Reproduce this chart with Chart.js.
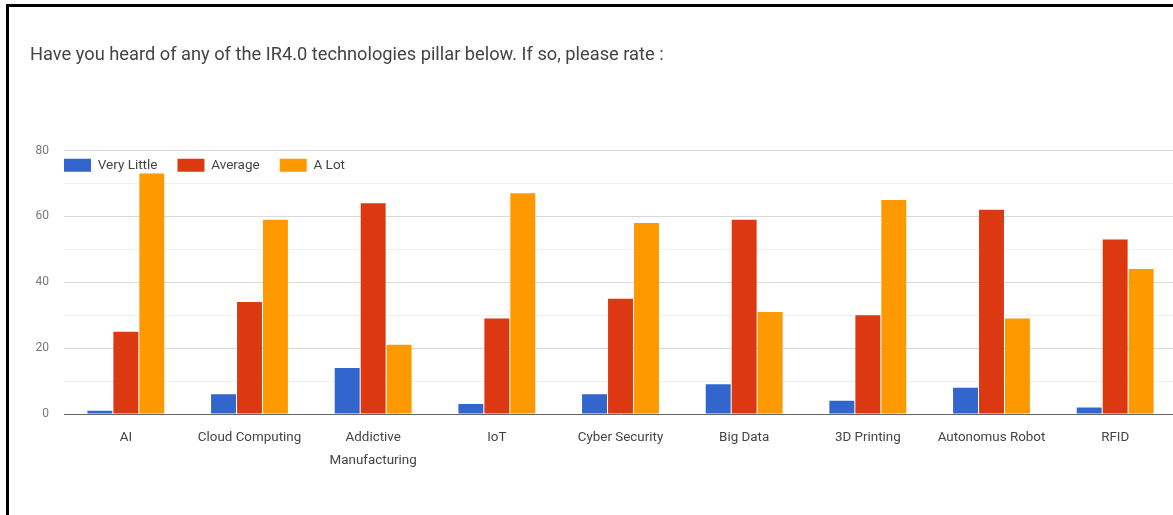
<!DOCTYPE html>
<html>
<head>
<meta charset="utf-8">
<script src="https://cdn.jsdelivr.net/npm/chart.js@4.4.1/dist/chart.umd.min.js"></script>
<style>
  body { margin: 0; background: #fff; overflow: hidden; }
  #wrap { position: relative; width: 1173px; height: 515px; overflow: hidden; }
  #mycanvas { position: absolute; left: 0; top: 0; }
  #frame { position: absolute; left: 6px; top: 4px; width: 2000px; height: 2000px;
           border-left: 3px solid #000; border-top: 3px solid #000; pointer-events: none; }
</style>
</head>
<body>
<div id="wrap">
  <canvas id="mycanvas" width="1180" height="515"></canvas>
  <div id="frame"></div>
</div>
<script>
var title = 'Have you heard of any of the IR4.0 technologies pillar below. If so, please rate :';
var categories = ['AI', 'Cloud Computing', ['Addictive', 'Manufacturing'], 'IoT', 'Cyber Security', 'Big Data', '3D Printing', 'Autonomus Robot', 'RFID'];
var seriesNames = ['Very Little', 'Average', 'A Lot'];
var veryLittle = [1, 6, 14, 3, 6, 9, 4, 8, 2];
var average = [25, 34, 64, 29, 35, 59, 30, 62, 53];
var aLot = [73, 59, 21, 67, 58, 31, 65, 29, 44];
var yTicks = [0, 20, 40, 60, 80];

var colors = ['#3366cc', '#dc3912', '#ff9900'];
var legendPad = 20;

// the original legend sits inside the plot, just under the top gridline
var legendInside =
{
  id: 'legendInside',
  afterLayout: function(chart)
  {
    var lg = chart.legend;
    lg.left = chart.chartArea.left - legendPad;
    lg.top = chart.chartArea.top + 8 - legendPad;
    lg.right = lg.left + lg.width;
    lg.bottom = lg.top + lg.height;
  }
};

var chartdata =
{
  labels: categories,
  datasets: [veryLittle, average, aLot].map(function(values, i)
  {
    return {
      label: seriesNames[i],
      backgroundColor: colors[i],
      borderWidth: 0,
      data: values,
      categoryPercentage: 0.63,
      barPercentage: 0.96
    };
  })
};

var ctx = document.getElementById('mycanvas');

var barGraph = new Chart(ctx,
{
  type: 'bar',
  data: chartdata,
  plugins: [legendInside],
  options:
  {
    responsive: false,
    animation: false,
    layout: { padding: { left: 30, right: 3, top: 0, bottom: 0 } },
    plugins:
    {
      tooltip: { enabled: false },
      title:
      {
        display: true,
        text: title,
        align: 'start',
        color: '#444',
        font: { family: 'Roboto', size: 18.25, weight: 'normal', lineHeight: 1.2 },
        padding: { top: 44.5, bottom: 40.6 }
      },
      legend:
      {
        position: 'top',
        align: 'start',
        labels:
        {
          boxWidth: 27,
          boxHeight: 13,
          padding: legendPad,
          color: '#444',
          font: { family: 'Roboto', size: 13.5 }
        }
      }
    },
    scales:
    {
      x:
      {
        grid: { display: false, drawTicks: false },
        border: { display: false },
        ticks:
        {
          color: '#444',
          padding: 12.5,
          maxRotation: 0,
          autoSkip: false,
          font: { family: 'Roboto', size: 13.4, lineHeight: 1.72 }
        },
        afterFit: function(scale) { scale.height = 101; }
      },
      y:
      {
        min: 0,
        max: 80,
        border: { display: false },
        grid:
        {
          drawTicks: false,
          color: function(c)
          {
            if (c.tick.value === 0) return '#666';
            return yTicks.indexOf(c.tick.value) >= 0 ? '#d9d9d9' : '#efefef';
          }
        },
        ticks:
        {
          stepSize: 10,
          color: '#777',
          padding: 15,
          font: { family: 'Roboto', size: 12 },
          callback: function(value)
          {
            return yTicks.indexOf(value) >= 0 ? value : '';
          }
        },
        afterFit: function(scale) { scale.width = 34; }
      }
    }
  }
});
</script>
</body>
</html>
